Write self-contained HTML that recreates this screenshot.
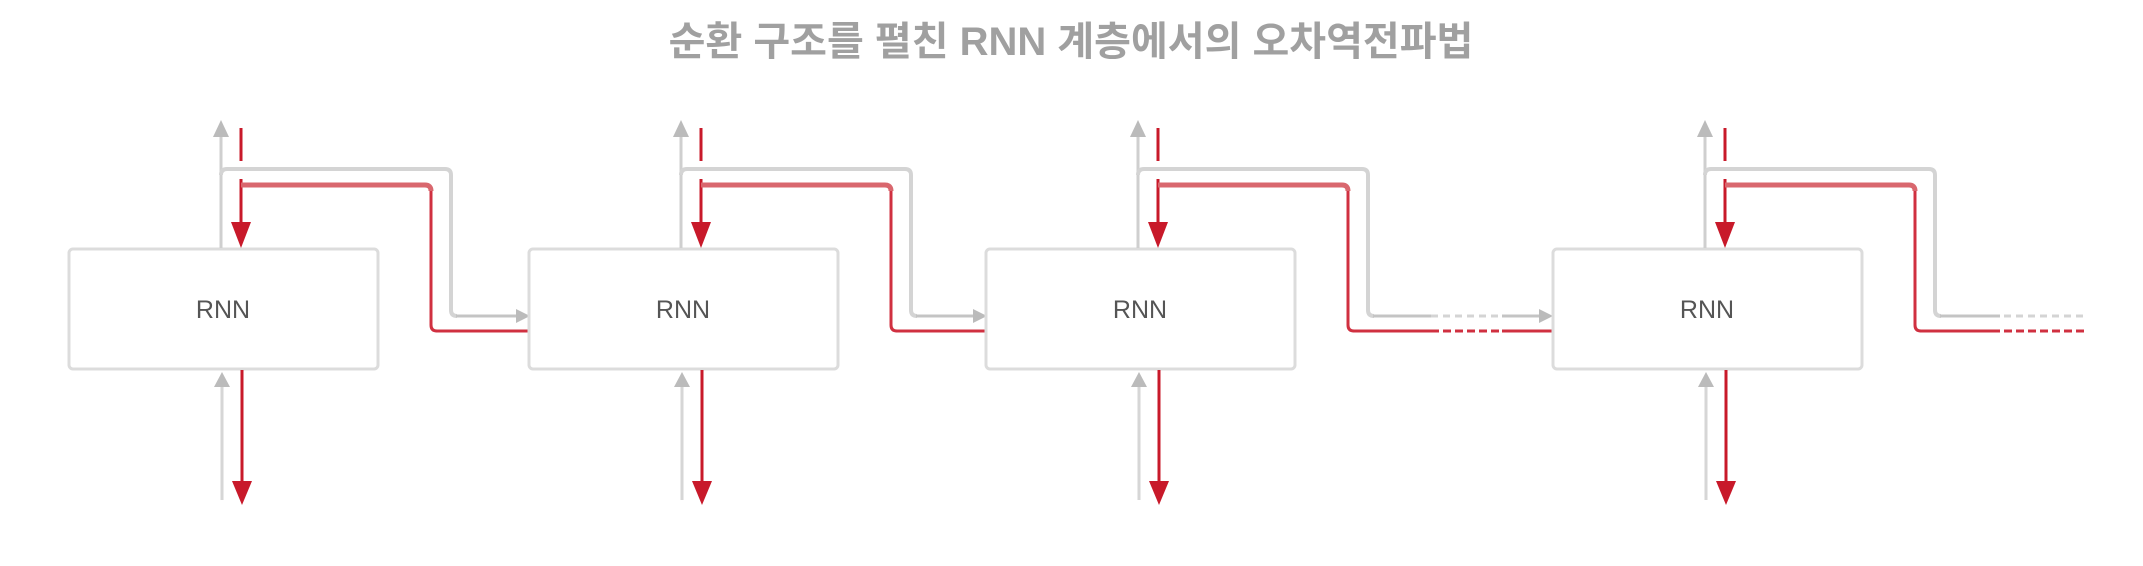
<!DOCTYPE html>
<html><head><meta charset="utf-8"><style>
body{margin:0;background:#fff;}
svg{display:block}
</style></head><body>
<svg width="2143" height="566" viewBox="0 0 2143 566" xmlns="http://www.w3.org/2000/svg">
<defs>
<g id="u">
  <rect x="69" y="249" width="309" height="120" rx="4" fill="#fff" stroke="#dcdcdc" stroke-width="3"/>
  <text x="223" y="318" text-anchor="middle" font-family="Liberation Sans, sans-serif" font-size="25" fill="#555">RNN</text>
  <line x1="221" y1="248" x2="221" y2="132" stroke="#cfcfcf" stroke-width="3"/>
  <polygon points="213,137 229,137 221,120" fill="#bbb"/>
  <line x1="241" y1="128" x2="241" y2="161" stroke="#c8192a" stroke-width="3"/>
  <line x1="241" y1="179" x2="241" y2="226" stroke="#c8192a" stroke-width="3"/>
  <polygon points="231,222 251,222 241,248" fill="#c8192a"/>
  <line x1="222" y1="500" x2="222" y2="385" stroke="#d6d6d6" stroke-width="3"/>
  <polygon points="214,387 230,387 222,372" fill="#bbb"/>
  <line x1="242" y1="370" x2="242" y2="486" stroke="#c8192a" stroke-width="3"/>
  <polygon points="232,481 252,481 242,505" fill="#c8192a"/>
  <path d="M221,175 Q221,169 227,169 H445 Q451,169 451,175 V310 Q451,316 457,316" fill="none" stroke="#d4d4d4" stroke-width="4"/>
  <path d="M241,185 H425 Q431,185 431,191" fill="none" stroke="#d9676e" stroke-width="5"/>
  <path d="M431,191 V325 Q431,331 437,331" fill="none" stroke="#d03040" stroke-width="3"/>
</g>
</defs>
<text x="1071" y="55" text-anchor="middle" font-family="Liberation Sans, 'Noto Sans CJK KR', sans-serif" font-size="40" font-weight="bold" fill="#a0a0a0">순환 구조를 펼친 RNN 계층에서의 오차역전파법</text>

<use href="#u"/>
<line x1="456" y1="316" x2="518" y2="316" stroke="#c4c4c4" stroke-width="3"/>
<polygon points="516,309 516,323 530,316" fill="#bbb"/>
<line x1="436" y1="331" x2="530" y2="331" stroke="#d03040" stroke-width="3"/>

<g transform="translate(460,0)"><use href="#u"/>
<line x1="456" y1="316" x2="515" y2="316" stroke="#c4c4c4" stroke-width="3"/>
<polygon points="513,309 513,323 527,316" fill="#bbb"/>
<line x1="436" y1="331" x2="527" y2="331" stroke="#d03040" stroke-width="3"/>
</g>

<g transform="translate(917,0)"><use href="#u"/>
<line x1="456" y1="316" x2="514" y2="316" stroke="#c4c4c4" stroke-width="3"/>
<line x1="514" y1="316" x2="585" y2="316" stroke="#d4d4d4" stroke-width="3" stroke-dasharray="7,5"/>
<line x1="585" y1="316" x2="624" y2="316" stroke="#c4c4c4" stroke-width="3"/>
<polygon points="622,309 622,323 636,316" fill="#bbb"/>
<line x1="436" y1="331" x2="514" y2="331" stroke="#d03040" stroke-width="3"/>
<line x1="514" y1="331" x2="585" y2="331" stroke="#d03040" stroke-width="3" stroke-dasharray="8,4"/>
<line x1="585" y1="331" x2="636" y2="331" stroke="#d03040" stroke-width="3"/>
</g>

<g transform="translate(1484,0)"><use href="#u"/>
<line x1="456" y1="316" x2="516" y2="316" stroke="#c4c4c4" stroke-width="3"/>
<line x1="520" y1="316" x2="602" y2="316" stroke="#d4d4d4" stroke-width="3" stroke-dasharray="7,5"/>
<line x1="436" y1="331" x2="516" y2="331" stroke="#d03040" stroke-width="3"/>
<line x1="520" y1="331" x2="602" y2="331" stroke="#d03040" stroke-width="3" stroke-dasharray="8,4"/>
</g>
</svg>
</body></html>
